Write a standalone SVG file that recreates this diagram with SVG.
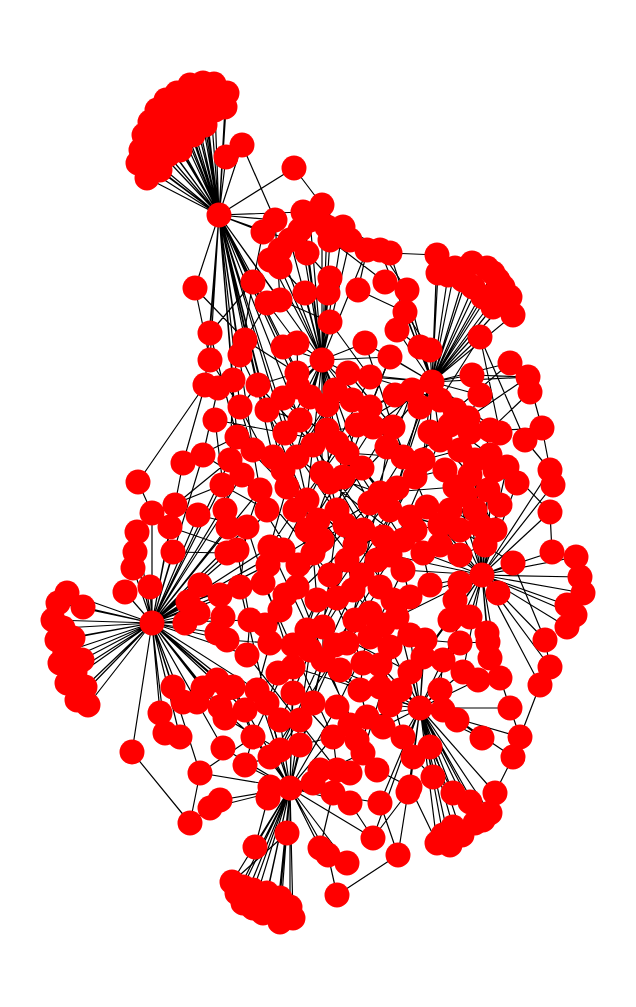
<svg xmlns="http://www.w3.org/2000/svg" width="636" height="1007" viewBox="0 0 636 1007">
<style>
.e path{fill:none;stroke:#000;stroke-width:1.2}
.n circle{fill:#f00}
</style>
<rect width="636" height="1007" fill="#fff"/>
<g id="edges" class="e">
<path id="edgesA" d="M219 215L147 178M219 215L138 163M219 215L141 150M219 215L144 135M219 215L150 122M219 215L157 110M219 215L166 100M219 215L177 93M219 215L190 85M219 215L203 83M219 215L214 84M219 215L227 93M219 215L225 107M219 215L152 165M219 215L158 150M219 215L162 137M219 215L168 124M219 215L176 112M219 215L186 103M219 215L198 96M219 215L210 97M219 215L215 110M219 215L205 112M219 215L195 118M219 215L185 128M219 215L175 140M219 215L168 155M219 215L160 170M219 215L180 150M219 215L193 135M219 215L205 125M219 215L226 157M219 215L242 145M219 215L294 168M219 215L195 288M219 215L303 212M219 215L263 232M219 215L275 220M219 215L210 333M219 215L210 360M219 215L233 380M219 215L240 407M219 215L298 387M219 215L297 457M219 215L300 420M219 215L267 410M219 215L253 282M219 215L267 303M219 215L283 347M219 215L322 360M219 215L245 340M219 215L280 300M219 215L290 240M219 215L205 385M219 215L237 437M219 215L273 457M219 215L310 397M219 215L253 450M219 215L240 355M219 215L285 433M219 215L258 385M219 215L283 470"/>
<path id="edgesF" d="M322 360L303 212M322 360L322 205M322 360L310 220M322 360L327 227M322 360L343 227M322 360L300 230M322 360L290 240M322 360L280 250M322 360L307 253M322 360L330 240M322 360L350 240M322 360L367 250M322 360L330 278M322 360L328 293M322 360L305 293M322 360L330 322M322 360L297 343M322 360L283 347M322 360L365 343M322 360L297 373M322 360L348 373M322 360L298 387M322 360L310 397M322 360L300 420M322 360L327 430M322 360L337 443M322 360L347 453M322 360L322 473M322 360L330 482M322 360L343 477M322 360L287 487M322 360L307 500M322 360L273 457M322 360L370 407M322 360L352 400M322 360L390 357M322 360L270 260M322 360L280 267M322 360L283 398M322 360L327 405M322 360L362 468M322 360L335 390"/>
<path id="edgesC" d="M432 382L437 255M432 382L438 273M432 382L448 275M432 382L472 263M432 382L487 268M432 382L493 273M432 382L503 287M432 382L510 297M432 382L513 315M432 382L493 307M432 382L483 297M432 382L473 287M432 382L463 280M432 382L455 268M432 382L498 280M432 382L407 290M432 382L405 312M432 382L397 330M432 382L420 347M432 382L430 350M432 382L390 357M432 382L365 343M432 382L412 390M432 382L420 407M432 382L393 427M432 382L440 400M432 382L455 410M432 382L468 418M432 382L472 375M432 382L480 337M432 382L500 433M432 382L490 430M432 382L510 363M432 382L528 377M432 382L373 427M432 382L370 407M432 382L403 457M432 382L423 460M432 382L390 253M432 382L380 250M432 382L440 440M432 382L450 425M432 382L348 373M432 382L370 377M432 382L357 425M432 382L397 488M432 382L480 395M432 382L395 395M432 382L430 432"/>
<path id="edgesB" d="M152 623L67 593M152 623L58 603M152 623L83 607M152 623L53 620M152 623L63 628M152 623L57 640M152 623L73 638M152 623L65 652M152 623L60 663M152 623L82 660M152 623L75 672M152 623L67 683M152 623L85 687M152 623L77 700M152 623L88 705M152 623L200 585M152 623L188 602M152 623L220 595M152 623L198 613M152 623L185 623M152 623L223 617M152 623L217 633M152 623L227 640M152 623L227 553M152 623L237 550M152 623L247 527M152 623L228 527M152 623L225 510M152 623L173 552M152 623L135 552M152 623L133 568M152 623L125 592M152 623L150 587M152 623L137 532M152 623L152 513M152 623L170 527M152 623L175 505M152 623L198 515M152 623L173 687M152 623L183 702M152 623L197 702M152 623L203 688M152 623L217 680M152 623L228 688M152 623L220 707M152 623L225 718M152 623L160 713M152 623L165 733M152 623L180 737M152 623L223 748M152 623L132 752M152 623L200 773M152 623L240 587M152 623L263 583M152 623L250 620M152 623L247 655M152 623L233 687M152 623L257 690M152 623L270 547M152 623L283 550M152 623L203 455M152 623L183 463M152 623L230 460M152 623L222 485M152 623L260 490M152 623L242 475M152 623L268 565M152 623L245 710"/>
<path id="edgesD" d="M482 575L552 552M482 575L576 557M482 575L580 577M482 575L583 593M482 575L567 605M482 575L575 615M482 575L567 627M482 575L513 563M482 575L550 512M482 575L553 485M482 575L550 470M482 575L517 483M482 575L507 467M482 575L498 593M482 575L460 583M482 575L455 600M482 575L470 617M482 575L450 620M482 575L487 633M482 575L545 640M482 575L500 678M482 575L540 685M482 575L550 667M482 575L488 642M482 575L490 658M482 575L423 553M482 575L440 545M482 575L460 555M482 575L403 570M482 575L410 597M482 575L397 617M482 575L423 657M482 575L410 672M482 575L443 660M482 575L463 672M482 575L488 490M482 575L500 505M482 575L475 510M482 575L495 530M482 575L480 525M482 575L460 530M482 575L440 525M482 575L455 487M482 575L490 455M482 575L475 460M482 575L390 555M482 575L430 585M482 575L495 470M482 575L465 495M482 575L485 545"/>
<path id="edgesE" d="M290 788L232 882M290 788L237 893M290 788L243 903M290 788L253 908M290 788L263 913M290 788L277 915M290 788L280 922M290 788L293 918M290 788L290 907M290 788L280 898M290 788L267 893M290 788L253 890M290 788L243 887M290 788L265 903M290 788L268 798M290 788L287 833M290 788L255 847M290 788L320 848M290 788L328 855M290 788L270 787M290 788L313 783M290 788L280 750M290 788L270 757M290 788L253 737M290 788L320 770M290 788L337 770M290 788L333 737M290 788L313 703M290 788L293 693M290 788L267 703M290 788L347 863M290 788L210 808M290 788L220 800M290 788L200 773M290 788L223 748M290 788L257 690M290 788L233 687M290 788L350 803M290 788L333 793M290 788L380 803M290 788L363 753M290 788L337 707M290 788L373 838M290 788L293 667M290 788L323 660M290 788L310 650M290 788L300 720M290 788L280 720M290 788L245 765M290 788L300 745"/>
<path id="edgesG" d="M420 708L453 793M420 708L495 793M420 708L470 802M420 708L490 813M420 708L475 823M420 708L453 827M420 708L443 835M420 708L437 843M420 708L450 845M420 708L462 835M420 708L483 820M420 708L443 710M420 708L457 720M420 708L430 747M420 708L433 777M420 708L410 787M420 708L413 757M420 708L403 737M420 708L383 727M420 708L367 717M420 708L380 687M420 708L410 672M420 708L423 657M420 708L443 660M420 708L463 672M420 708L482 738M420 708L520 737M420 708L510 708M420 708L380 803M420 708L373 838M420 708L408 792M420 708L425 640M420 708L460 643M420 708L390 647M420 708L397 617M420 708L360 690M420 708L478 680M420 708L410 635M420 708L380 665M420 708L400 690M420 708L440 690M420 708L390 705"/>
<path id="edgesR" d="M263 232L253 282M275 220L280 300M303 212L343 227M322 205L294 168M243 147L275 220M390 253L437 255M380 250L407 290M385 282L407 290M358 290L405 312M390 357L370 407M365 343L393 427M330 322L370 377M267 303L297 343M280 300L330 322M253 282L210 333M210 333L237 437M210 360L240 407M205 385L138 482M205 385L183 463M218 388L203 455M233 380L230 460M240 355L267 410M245 340L297 373M283 347L310 397M297 343L298 387M348 373L393 427M370 377L412 390M412 390L440 400M420 407L455 410M440 400L480 337M455 410L510 363M468 418L528 377M470 432L542 428M490 430L530 392M500 433L480 337M525 440L550 470M542 428L553 485M507 467L550 512M528 377L542 428M510 363L530 392M472 375L528 377M480 337L525 440M550 512L552 552M513 563L545 640M545 640L550 667M550 667L540 685M540 685L520 737M520 737L513 757M513 757L495 793M488 642L500 678M500 678L510 708M510 708L520 737M337 895L328 855M337 895L398 855M398 855L408 792M373 838L408 792M132 752L190 823M190 823L210 808M200 773L190 823M138 482L152 513M267 410L300 420M240 407L253 450M237 437L273 457M253 450L260 490M273 457L287 487M297 457L307 500M300 420L327 430M327 430L373 427M337 443L370 503M347 453L403 457M322 473L380 493M330 482L337 510M343 477L390 510M370 407L415 477M373 427L423 460M393 427L427 507M403 457L440 440M423 460L460 450M415 477L445 470M380 493L455 487M370 503L410 517M390 510L440 525M410 517L460 530M427 507L475 510M363 530L403 540M383 537L440 545M403 540L423 553M345 525L347 560M307 530L313 553M283 550L297 587M270 547L263 583M247 527L240 587M237 550L250 620M260 490L247 527M287 487L270 547M307 500L307 530M267 510L237 550M313 553L317 600M347 560L353 590M377 560L380 587M403 570L410 597M353 590L370 613M317 600L307 630M297 587L280 610M280 610L270 643M307 630L293 667M323 627L323 660M347 643L363 663M370 637L390 647M397 617L423 657M370 613L347 643M250 620L247 655M270 643L257 690M293 667L293 693M323 660L313 703M363 663L360 690M390 647L380 687M233 687L253 737M257 690L267 703M267 703L280 750M293 693L333 737M313 703L337 707M337 707L357 740M360 690L367 717M380 687L383 727M367 717L363 753M383 727L403 737M253 737L270 757M333 737L337 770M357 740L377 770M363 753L350 773M377 770L410 787M413 757L433 777M320 770L313 783M300 420L363 530M267 410L345 525M337 443L283 550M373 427L307 530M412 390L337 510M287 487L377 560M297 457L403 540M260 490L313 553M420 407L383 537M330 482L270 643M343 477L323 627M380 493L347 643M390 510L307 630M322 473L370 613M307 500L397 617M247 527L293 667M270 547L323 660M313 553L363 663M347 560L293 693M377 560L313 703M403 570L337 707M240 587L267 703M263 583L333 737M297 587L357 740M317 600L253 737M353 590L280 750M380 587L270 757M410 597L363 753M370 613L403 737M307 630L377 770M323 627L410 672M250 620L360 690M270 643L380 687M293 667L420 708M247 655L337 770M183 463L237 437M203 455L260 490M222 485L267 510M198 515L247 527M175 505L230 460M170 527L237 550M173 552L227 553M152 513L222 485M215 420L285 433M285 433L337 443M352 400L403 457M440 440L470 475M450 425L490 455M468 418L507 467M460 450L517 483M445 470L488 490M455 487L500 505M470 475L495 530M440 525L460 555M450 510L480 525M460 530L513 563M425 640L460 643M460 643L488 642M443 660L478 680M457 720L482 738M443 710L513 757M430 747L453 793M433 777L470 802M410 787L437 843M350 803L373 838M333 793L320 848M380 803L398 855M268 798L255 847M287 833L232 882M240 587L188 602M225 510L237 437M228 527L215 420M227 640L270 643M217 680L257 690M220 707L253 737M225 718L280 750M200 773L253 737M322 205L350 240M343 227L390 253M367 250L358 290M330 240L385 282M307 253L330 278M280 267L305 293M253 282L243 340M267 303L245 340M397 330L420 347M405 312L430 350M195 288L245 340M195 288L210 360"/>
<path id="edgesR2" d="M258 385L297 373M258 385L240 407M283 398L267 410M283 398L300 420M327 405L352 400M327 405L337 443M357 425L370 407M357 425L347 453M387 447L373 427M387 447L403 457M387 447L380 493M362 468L347 453M362 468L380 493M397 488L415 477M397 488L390 510M313 445L300 420M313 445L322 473M313 445L297 457M283 470L273 457M283 470L287 487M242 475L230 460M242 475L260 490M318 520L307 500M318 520L337 510M318 520L307 530M295 510L287 487M295 510L307 530M295 510L270 547M322 540L313 553M322 540L345 525M322 540L298 565M355 545L347 560M355 545L363 530M355 545L383 537M390 555L377 560M390 555L403 540M415 530L410 517M415 530L423 553M415 530L440 525M362 575L347 560M362 575L353 590M362 575L377 560M330 575L313 553M330 575L337 598M330 575L347 560M298 565L283 550M298 565L297 587M298 565L313 553M268 565L270 547M268 565L263 583M285 595L297 587M285 595L280 610M285 595L263 583M337 598L317 600M337 598L353 590M337 598L323 627M393 600L380 587M393 600L410 597M393 600L397 617M430 585L423 553M430 585L410 597M265 625L250 620M265 625L280 610M265 625L270 643M293 645L307 630M293 645L270 643M293 645L293 667M335 645L323 627M335 645L347 643M335 645L323 660M355 620L370 613M355 620L347 643M355 620L337 598M383 625L370 637M383 625L397 617M383 625L390 647M410 635L397 617M410 635L425 640M310 650L307 630M310 650L323 660M278 673L293 667M278 673L257 690M278 673L267 703M340 670L323 660M340 670L363 663M340 670L360 690M380 665L363 663M380 665L390 647M400 690L380 687M400 690L410 672M440 690L443 710M440 690L443 660M300 720L313 703M300 720L280 750M350 725L337 707M350 725L357 740M350 725L367 717M390 705L380 687M390 705L383 727M280 720L267 703M280 720L293 693M245 710L233 687M245 710L253 737M245 765L253 737M245 765L270 757M300 745L280 750M300 745L333 737M480 395L472 375M480 395L468 418M495 470L490 455M495 470L507 467M465 495L455 487M465 495L475 510M335 390L348 373M335 390L352 400M395 395L412 390M395 395L370 407M430 432L440 440M430 432L423 460M485 545L495 530M485 545L460 555M297 373L380 493M310 397L403 540M348 373L297 457M370 377L322 473M390 357L343 477M412 390L363 530M267 410L322 540M240 407L295 510M237 437L318 520M253 450L355 545M403 457L330 575M423 460L362 575M440 440L390 555M415 477L337 598M380 493L285 595M370 503L268 565M337 510L393 600M363 530L265 625M383 537L310 650M403 540L335 645M258 385L313 445M283 398L362 468M327 405L283 470M357 425L295 510M387 447L318 520M362 468L415 530M397 488L355 545M313 445L390 555M283 470L322 540M242 475L298 565"/>
</g>
<g id="nodes" class="n">
<g id="hubA"><circle cx="219" cy="215" r="12.5"/></g>
<g id="a1"><circle cx="147" cy="178" r="12.5"/></g>
<g id="a2"><circle cx="138" cy="163" r="12.5"/></g>
<g id="a3"><circle cx="141" cy="150" r="12.5"/></g>
<g id="a4"><circle cx="144" cy="135" r="12.5"/></g>
<g id="a5"><circle cx="150" cy="122" r="12.5"/></g>
<g id="a6"><circle cx="157" cy="110" r="12.5"/></g>
<g id="a7"><circle cx="166" cy="100" r="12.5"/></g>
<g id="a8"><circle cx="177" cy="93" r="12.5"/></g>
<g id="a9"><circle cx="190" cy="85" r="12.5"/></g>
<g id="a10"><circle cx="203" cy="83" r="12.5"/></g>
<g id="a11"><circle cx="214" cy="84" r="12.5"/></g>
<g id="a12"><circle cx="227" cy="93" r="12.5"/></g>
<g id="a13"><circle cx="225" cy="107" r="12.5"/></g>
<g id="a14"><circle cx="152" cy="165" r="12.5"/></g>
<g id="a15"><circle cx="158" cy="150" r="12.5"/></g>
<g id="a16"><circle cx="162" cy="137" r="12.5"/></g>
<g id="a17"><circle cx="168" cy="124" r="12.5"/></g>
<g id="a18"><circle cx="176" cy="112" r="12.5"/></g>
<g id="a19"><circle cx="186" cy="103" r="12.5"/></g>
<g id="a20"><circle cx="198" cy="96" r="12.5"/></g>
<g id="a21"><circle cx="210" cy="97" r="12.5"/></g>
<g id="a22"><circle cx="215" cy="110" r="12.5"/></g>
<g id="a23"><circle cx="205" cy="112" r="12.5"/></g>
<g id="a24"><circle cx="195" cy="118" r="12.5"/></g>
<g id="a25"><circle cx="185" cy="128" r="12.5"/></g>
<g id="a26"><circle cx="175" cy="140" r="12.5"/></g>
<g id="a27"><circle cx="168" cy="155" r="12.5"/></g>
<g id="a28"><circle cx="160" cy="170" r="12.5"/></g>
<g id="a29"><circle cx="180" cy="150" r="12.5"/></g>
<g id="a30"><circle cx="193" cy="135" r="12.5"/></g>
<g id="a31"><circle cx="205" cy="125" r="12.5"/></g>
<g id="a32"><circle cx="226" cy="157" r="12.5"/></g>
<g id="a33"><circle cx="242" cy="145" r="12.5"/></g>
<g id="u1"><circle cx="294" cy="168" r="12.5"/></g>
<g id="u2"><circle cx="195" cy="288" r="12.5"/></g>
<g id="u3"><circle cx="303" cy="212" r="12.5"/></g>
<g id="u4"><circle cx="322" cy="205" r="12.5"/></g>
<g id="u5"><circle cx="275" cy="220" r="12.5"/></g>
<g id="u6"><circle cx="263" cy="232" r="12.5"/></g>
<g id="u7"><circle cx="310" cy="220" r="12.5"/></g>
<g id="u8"><circle cx="343" cy="227" r="12.5"/></g>
<g id="u9"><circle cx="327" cy="227" r="12.5"/></g>
<g id="u10"><circle cx="300" cy="230" r="12.5"/></g>
<g id="u11"><circle cx="290" cy="240" r="12.5"/></g>
<g id="u12"><circle cx="280" cy="250" r="12.5"/></g>
<g id="u13"><circle cx="270" cy="260" r="12.5"/></g>
<g id="u14"><circle cx="280" cy="267" r="12.5"/></g>
<g id="u15"><circle cx="307" cy="253" r="12.5"/></g>
<g id="u16"><circle cx="330" cy="240" r="12.5"/></g>
<g id="u17"><circle cx="350" cy="240" r="12.5"/></g>
<g id="u18"><circle cx="367" cy="250" r="12.5"/></g>
<g id="u19"><circle cx="380" cy="250" r="12.5"/></g>
<g id="u20"><circle cx="390" cy="253" r="12.5"/></g>
<g id="u21"><circle cx="253" cy="282" r="12.5"/></g>
<g id="u22"><circle cx="267" cy="303" r="12.5"/></g>
<g id="u23"><circle cx="280" cy="300" r="12.5"/></g>
<g id="u24"><circle cx="305" cy="293" r="12.5"/></g>
<g id="u25"><circle cx="330" cy="278" r="12.5"/></g>
<g id="u26"><circle cx="328" cy="293" r="12.5"/></g>
<g id="u27"><circle cx="358" cy="290" r="12.5"/></g>
<g id="u28"><circle cx="385" cy="282" r="12.5"/></g>
<g id="u29"><circle cx="407" cy="290" r="12.5"/></g>
<g id="u30"><circle cx="405" cy="312" r="12.5"/></g>
<g id="u31"><circle cx="397" cy="330" r="12.5"/></g>
<g id="u32"><circle cx="420" cy="347" r="12.5"/></g>
<g id="u33"><circle cx="430" cy="350" r="12.5"/></g>
<g id="u34"><circle cx="390" cy="357" r="12.5"/></g>
<g id="u35"><circle cx="365" cy="343" r="12.5"/></g>
<g id="u36"><circle cx="330" cy="322" r="12.5"/></g>
<g id="u37"><circle cx="283" cy="347" r="12.5"/></g>
<g id="u38"><circle cx="297" cy="343" r="12.5"/></g>
<g id="u39"><circle cx="245" cy="340" r="12.5"/></g>
<g id="u40"><circle cx="210" cy="333" r="12.5"/></g>
<g id="u41"><circle cx="210" cy="360" r="12.5"/></g>
<g id="u42"><circle cx="240" cy="355" r="12.5"/></g>
<g id="u43"><circle cx="233" cy="380" r="12.5"/></g>
<g id="u44"><circle cx="205" cy="385" r="12.5"/></g>
<g id="u45"><circle cx="218" cy="388" r="12.5"/></g>
<g id="hubC"><circle cx="432" cy="382" r="12.5"/></g>
<g id="c1"><circle cx="437" cy="255" r="12.5"/></g>
<g id="c2"><circle cx="438" cy="273" r="12.5"/></g>
<g id="c3"><circle cx="448" cy="275" r="12.5"/></g>
<g id="c4"><circle cx="472" cy="263" r="12.5"/></g>
<g id="c5"><circle cx="487" cy="268" r="12.5"/></g>
<g id="c6"><circle cx="493" cy="273" r="12.5"/></g>
<g id="c7"><circle cx="503" cy="287" r="12.5"/></g>
<g id="c8"><circle cx="510" cy="297" r="12.5"/></g>
<g id="c9"><circle cx="513" cy="315" r="12.5"/></g>
<g id="c10"><circle cx="493" cy="307" r="12.5"/></g>
<g id="c11"><circle cx="483" cy="297" r="12.5"/></g>
<g id="c12"><circle cx="473" cy="287" r="12.5"/></g>
<g id="c13"><circle cx="463" cy="280" r="12.5"/></g>
<g id="c14"><circle cx="455" cy="268" r="12.5"/></g>
<g id="c15"><circle cx="498" cy="280" r="12.5"/></g>
<g id="c16"><circle cx="480" cy="337" r="12.5"/></g>
<g id="c17"><circle cx="472" cy="375" r="12.5"/></g>
<g id="c18"><circle cx="510" cy="363" r="12.5"/></g>
<g id="c19"><circle cx="528" cy="377" r="12.5"/></g>
<g id="c20"><circle cx="530" cy="392" r="12.5"/></g>
<g id="c21"><circle cx="542" cy="428" r="12.5"/></g>
<g id="c22"><circle cx="500" cy="433" r="12.5"/></g>
<g id="c23"><circle cx="490" cy="430" r="12.5"/></g>
<g id="c24"><circle cx="525" cy="440" r="12.5"/></g>
<g id="l1"><circle cx="183" cy="463" r="12.5"/></g>
<g id="l2"><circle cx="203" cy="455" r="12.5"/></g>
<g id="l3"><circle cx="230" cy="460" r="12.5"/></g>
<g id="l4"><circle cx="237" cy="437" r="12.5"/></g>
<g id="l5"><circle cx="222" cy="485" r="12.5"/></g>
<g id="l6"><circle cx="138" cy="482" r="12.5"/></g>
<g id="l7"><circle cx="175" cy="505" r="12.5"/></g>
<g id="l8"><circle cx="198" cy="515" r="12.5"/></g>
<g id="l9"><circle cx="152" cy="513" r="12.5"/></g>
<g id="l10"><circle cx="170" cy="527" r="12.5"/></g>
<g id="l11"><circle cx="137" cy="532" r="12.5"/></g>
<g id="l12"><circle cx="225" cy="510" r="12.5"/></g>
<g id="l13"><circle cx="228" cy="527" r="12.5"/></g>
<g id="l14"><circle cx="135" cy="552" r="12.5"/></g>
<g id="l15"><circle cx="173" cy="552" r="12.5"/></g>
<g id="l16"><circle cx="227" cy="553" r="12.5"/></g>
<g id="l17"><circle cx="133" cy="568" r="12.5"/></g>
<g id="l18"><circle cx="125" cy="592" r="12.5"/></g>
<g id="l19"><circle cx="150" cy="587" r="12.5"/></g>
<g id="l20"><circle cx="200" cy="585" r="12.5"/></g>
<g id="l21"><circle cx="188" cy="602" r="12.5"/></g>
<g id="l22"><circle cx="220" cy="595" r="12.5"/></g>
<g id="l23"><circle cx="198" cy="613" r="12.5"/></g>
<g id="l24"><circle cx="185" cy="623" r="12.5"/></g>
<g id="l25"><circle cx="223" cy="617" r="12.5"/></g>
<g id="l26"><circle cx="217" cy="633" r="12.5"/></g>
<g id="l27"><circle cx="227" cy="640" r="12.5"/></g>
<g id="hubB"><circle cx="152" cy="623" r="12.5"/></g>
<g id="b1"><circle cx="67" cy="593" r="12.5"/></g>
<g id="b2"><circle cx="58" cy="603" r="12.5"/></g>
<g id="b3"><circle cx="83" cy="607" r="12.5"/></g>
<g id="b4"><circle cx="53" cy="620" r="12.5"/></g>
<g id="b5"><circle cx="63" cy="628" r="12.5"/></g>
<g id="b6"><circle cx="57" cy="640" r="12.5"/></g>
<g id="b7"><circle cx="73" cy="638" r="12.5"/></g>
<g id="b8"><circle cx="65" cy="652" r="12.5"/></g>
<g id="b9"><circle cx="60" cy="663" r="12.5"/></g>
<g id="b10"><circle cx="82" cy="660" r="12.5"/></g>
<g id="b11"><circle cx="75" cy="672" r="12.5"/></g>
<g id="b12"><circle cx="67" cy="683" r="12.5"/></g>
<g id="b13"><circle cx="85" cy="687" r="12.5"/></g>
<g id="b14"><circle cx="77" cy="700" r="12.5"/></g>
<g id="b15"><circle cx="88" cy="705" r="12.5"/></g>
<g id="l28"><circle cx="173" cy="687" r="12.5"/></g>
<g id="l29"><circle cx="183" cy="702" r="12.5"/></g>
<g id="l30"><circle cx="197" cy="702" r="12.5"/></g>
<g id="l31"><circle cx="203" cy="688" r="12.5"/></g>
<g id="l32"><circle cx="217" cy="680" r="12.5"/></g>
<g id="l33"><circle cx="228" cy="688" r="12.5"/></g>
<g id="l34"><circle cx="220" cy="707" r="12.5"/></g>
<g id="l35"><circle cx="225" cy="718" r="12.5"/></g>
<g id="l36"><circle cx="160" cy="713" r="12.5"/></g>
<g id="l37"><circle cx="165" cy="733" r="12.5"/></g>
<g id="l38"><circle cx="180" cy="737" r="12.5"/></g>
<g id="l39"><circle cx="223" cy="748" r="12.5"/></g>
<g id="l40"><circle cx="132" cy="752" r="12.5"/></g>
<g id="l41"><circle cx="200" cy="773" r="12.5"/></g>
<g id="l42"><circle cx="210" cy="808" r="12.5"/></g>
<g id="l43"><circle cx="220" cy="800" r="12.5"/></g>
<g id="l44"><circle cx="190" cy="823" r="12.5"/></g>
<g id="hubF"><circle cx="322" cy="360" r="12.5"/></g>
<g id="m1"><circle cx="297" cy="373" r="12.5"/></g>
<g id="m2"><circle cx="310" cy="397" r="12.5"/></g>
<g id="m3"><circle cx="298" cy="387" r="12.5"/></g>
<g id="m4"><circle cx="300" cy="420" r="12.5"/></g>
<g id="m5"><circle cx="267" cy="410" r="12.5"/></g>
<g id="m6"><circle cx="240" cy="407" r="12.5"/></g>
<g id="m7"><circle cx="253" cy="450" r="12.5"/></g>
<g id="m8"><circle cx="273" cy="457" r="12.5"/></g>
<g id="m9"><circle cx="297" cy="457" r="12.5"/></g>
<g id="m10"><circle cx="327" cy="430" r="12.5"/></g>
<g id="m11"><circle cx="337" cy="443" r="12.5"/></g>
<g id="m12"><circle cx="347" cy="453" r="12.5"/></g>
<g id="m13"><circle cx="322" cy="473" r="12.5"/></g>
<g id="m14"><circle cx="330" cy="482" r="12.5"/></g>
<g id="m15"><circle cx="343" cy="477" r="12.5"/></g>
<g id="m16"><circle cx="348" cy="373" r="12.5"/></g>
<g id="m17"><circle cx="370" cy="377" r="12.5"/></g>
<g id="m18"><circle cx="370" cy="407" r="12.5"/></g>
<g id="m19"><circle cx="373" cy="427" r="12.5"/></g>
<g id="m20"><circle cx="393" cy="427" r="12.5"/></g>
<g id="m21"><circle cx="412" cy="390" r="12.5"/></g>
<g id="m22"><circle cx="420" cy="407" r="12.5"/></g>
<g id="m23"><circle cx="403" cy="457" r="12.5"/></g>
<g id="m24"><circle cx="423" cy="460" r="12.5"/></g>
<g id="m25"><circle cx="415" cy="477" r="12.5"/></g>
<g id="m26"><circle cx="380" cy="493" r="12.5"/></g>
<g id="m27"><circle cx="370" cy="503" r="12.5"/></g>
<g id="m28"><circle cx="390" cy="510" r="12.5"/></g>
<g id="m29"><circle cx="410" cy="517" r="12.5"/></g>
<g id="m30"><circle cx="427" cy="507" r="12.5"/></g>
<g id="m31"><circle cx="337" cy="510" r="12.5"/></g>
<g id="m32"><circle cx="345" cy="525" r="12.5"/></g>
<g id="m33"><circle cx="363" cy="530" r="12.5"/></g>
<g id="m34"><circle cx="383" cy="537" r="12.5"/></g>
<g id="m35"><circle cx="403" cy="540" r="12.5"/></g>
<g id="m36"><circle cx="423" cy="553" r="12.5"/></g>
<g id="m37"><circle cx="260" cy="490" r="12.5"/></g>
<g id="m38"><circle cx="287" cy="487" r="12.5"/></g>
<g id="m39"><circle cx="307" cy="500" r="12.5"/></g>
<g id="m40"><circle cx="267" cy="510" r="12.5"/></g>
<g id="m41"><circle cx="247" cy="527" r="12.5"/></g>
<g id="m42"><circle cx="237" cy="550" r="12.5"/></g>
<g id="m43"><circle cx="270" cy="547" r="12.5"/></g>
<g id="m44"><circle cx="283" cy="550" r="12.5"/></g>
<g id="m45"><circle cx="307" cy="530" r="12.5"/></g>
<g id="m46"><circle cx="313" cy="553" r="12.5"/></g>
<g id="m47"><circle cx="347" cy="560" r="12.5"/></g>
<g id="m48"><circle cx="377" cy="560" r="12.5"/></g>
<g id="m49"><circle cx="403" cy="570" r="12.5"/></g>
<g id="m50"><circle cx="352" cy="400" r="12.5"/></g>
<g id="m51"><circle cx="285" cy="433" r="12.5"/></g>
<g id="m52"><circle cx="215" cy="420" r="12.5"/></g>
<g id="r1"><circle cx="440" cy="400" r="12.5"/></g>
<g id="r2"><circle cx="455" cy="410" r="12.5"/></g>
<g id="r3"><circle cx="450" cy="425" r="12.5"/></g>
<g id="r4"><circle cx="468" cy="418" r="12.5"/></g>
<g id="r5"><circle cx="470" cy="432" r="12.5"/></g>
<g id="r6"><circle cx="440" cy="440" r="12.5"/></g>
<g id="r7"><circle cx="460" cy="450" r="12.5"/></g>
<g id="r8"><circle cx="475" cy="460" r="12.5"/></g>
<g id="r9"><circle cx="490" cy="455" r="12.5"/></g>
<g id="r10"><circle cx="445" cy="470" r="12.5"/></g>
<g id="r11"><circle cx="455" cy="487" r="12.5"/></g>
<g id="r12"><circle cx="470" cy="475" r="12.5"/></g>
<g id="r13"><circle cx="488" cy="490" r="12.5"/></g>
<g id="r14"><circle cx="500" cy="505" r="12.5"/></g>
<g id="r15"><circle cx="475" cy="510" r="12.5"/></g>
<g id="r16"><circle cx="450" cy="510" r="12.5"/></g>
<g id="r17"><circle cx="440" cy="525" r="12.5"/></g>
<g id="r18"><circle cx="460" cy="530" r="12.5"/></g>
<g id="r19"><circle cx="480" cy="525" r="12.5"/></g>
<g id="r20"><circle cx="495" cy="530" r="12.5"/></g>
<g id="r21"><circle cx="440" cy="545" r="12.5"/></g>
<g id="r22"><circle cx="460" cy="555" r="12.5"/></g>
<g id="r23"><circle cx="507" cy="467" r="12.5"/></g>
<g id="r24"><circle cx="517" cy="483" r="12.5"/></g>
<g id="r25"><circle cx="550" cy="470" r="12.5"/></g>
<g id="r26"><circle cx="553" cy="485" r="12.5"/></g>
<g id="r27"><circle cx="550" cy="512" r="12.5"/></g>
<g id="r28"><circle cx="513" cy="563" r="12.5"/></g>
<g id="hubD"><circle cx="482" cy="575" r="12.5"/></g>
<g id="d1"><circle cx="552" cy="552" r="12.5"/></g>
<g id="d2"><circle cx="576" cy="557" r="12.5"/></g>
<g id="d3"><circle cx="580" cy="577" r="12.5"/></g>
<g id="d4"><circle cx="583" cy="593" r="12.5"/></g>
<g id="d5"><circle cx="567" cy="605" r="12.5"/></g>
<g id="d6"><circle cx="575" cy="615" r="12.5"/></g>
<g id="d7"><circle cx="567" cy="627" r="12.5"/></g>
<g id="d8"><circle cx="498" cy="593" r="12.5"/></g>
<g id="d9"><circle cx="460" cy="583" r="12.5"/></g>
<g id="d10"><circle cx="455" cy="600" r="12.5"/></g>
<g id="d11"><circle cx="470" cy="617" r="12.5"/></g>
<g id="d12"><circle cx="450" cy="620" r="12.5"/></g>
<g id="d13"><circle cx="487" cy="633" r="12.5"/></g>
<g id="d14"><circle cx="545" cy="640" r="12.5"/></g>
<g id="s1"><circle cx="240" cy="587" r="12.5"/></g>
<g id="s2"><circle cx="263" cy="583" r="12.5"/></g>
<g id="s3"><circle cx="297" cy="587" r="12.5"/></g>
<g id="s4"><circle cx="317" cy="600" r="12.5"/></g>
<g id="s5"><circle cx="353" cy="590" r="12.5"/></g>
<g id="s6"><circle cx="380" cy="587" r="12.5"/></g>
<g id="s7"><circle cx="410" cy="597" r="12.5"/></g>
<g id="s8"><circle cx="370" cy="613" r="12.5"/></g>
<g id="s9"><circle cx="250" cy="620" r="12.5"/></g>
<g id="s10"><circle cx="280" cy="610" r="12.5"/></g>
<g id="s11"><circle cx="307" cy="630" r="12.5"/></g>
<g id="s12"><circle cx="323" cy="627" r="12.5"/></g>
<g id="s13"><circle cx="270" cy="643" r="12.5"/></g>
<g id="s14"><circle cx="247" cy="655" r="12.5"/></g>
<g id="s15"><circle cx="293" cy="667" r="12.5"/></g>
<g id="s16"><circle cx="323" cy="660" r="12.5"/></g>
<g id="s17"><circle cx="347" cy="643" r="12.5"/></g>
<g id="s18"><circle cx="370" cy="637" r="12.5"/></g>
<g id="s19"><circle cx="397" cy="617" r="12.5"/></g>
<g id="s20"><circle cx="390" cy="647" r="12.5"/></g>
<g id="s21"><circle cx="363" cy="663" r="12.5"/></g>
<g id="s22"><circle cx="410" cy="672" r="12.5"/></g>
<g id="s23"><circle cx="423" cy="657" r="12.5"/></g>
<g id="s24"><circle cx="233" cy="687" r="12.5"/></g>
<g id="s25"><circle cx="257" cy="690" r="12.5"/></g>
<g id="s26"><circle cx="267" cy="703" r="12.5"/></g>
<g id="s27"><circle cx="293" cy="693" r="12.5"/></g>
<g id="s28"><circle cx="313" cy="703" r="12.5"/></g>
<g id="s29"><circle cx="337" cy="707" r="12.5"/></g>
<g id="s30"><circle cx="360" cy="690" r="12.5"/></g>
<g id="s31"><circle cx="380" cy="687" r="12.5"/></g>
<g id="s32"><circle cx="367" cy="717" r="12.5"/></g>
<g id="s33"><circle cx="383" cy="727" r="12.5"/></g>
<g id="s34"><circle cx="403" cy="737" r="12.5"/></g>
<g id="hubG"><circle cx="420" cy="708" r="12.5"/></g>
<g id="s35"><circle cx="253" cy="737" r="12.5"/></g>
<g id="s36"><circle cx="280" cy="750" r="12.5"/></g>
<g id="s37"><circle cx="270" cy="757" r="12.5"/></g>
<g id="s38"><circle cx="333" cy="737" r="12.5"/></g>
<g id="s39"><circle cx="357" cy="740" r="12.5"/></g>
<g id="s40"><circle cx="363" cy="753" r="12.5"/></g>
<g id="s41"><circle cx="377" cy="770" r="12.5"/></g>
<g id="s42"><circle cx="337" cy="770" r="12.5"/></g>
<g id="s43"><circle cx="320" cy="770" r="12.5"/></g>
<g id="hubE"><circle cx="290" cy="788" r="12.5"/></g>
<g id="s44"><circle cx="270" cy="787" r="12.5"/></g>
<g id="s45"><circle cx="313" cy="783" r="12.5"/></g>
<g id="s46"><circle cx="350" cy="773" r="12.5"/></g>
<g id="s47"><circle cx="410" cy="787" r="12.5"/></g>
<g id="s48"><circle cx="413" cy="757" r="12.5"/></g>
<g id="t1"><circle cx="425" cy="640" r="12.5"/></g>
<g id="t2"><circle cx="460" cy="643" r="12.5"/></g>
<g id="t3"><circle cx="443" cy="660" r="12.5"/></g>
<g id="t4"><circle cx="463" cy="672" r="12.5"/></g>
<g id="t5"><circle cx="478" cy="680" r="12.5"/></g>
<g id="t6"><circle cx="488" cy="642" r="12.5"/></g>
<g id="t7"><circle cx="490" cy="658" r="12.5"/></g>
<g id="t8"><circle cx="500" cy="678" r="12.5"/></g>
<g id="t9"><circle cx="540" cy="685" r="12.5"/></g>
<g id="t10"><circle cx="550" cy="667" r="12.5"/></g>
<g id="t11"><circle cx="443" cy="710" r="12.5"/></g>
<g id="t12"><circle cx="457" cy="720" r="12.5"/></g>
<g id="t13"><circle cx="482" cy="738" r="12.5"/></g>
<g id="t14"><circle cx="510" cy="708" r="12.5"/></g>
<g id="t15"><circle cx="520" cy="737" r="12.5"/></g>
<g id="t16"><circle cx="513" cy="757" r="12.5"/></g>
<g id="t17"><circle cx="430" cy="747" r="12.5"/></g>
<g id="t18"><circle cx="433" cy="777" r="12.5"/></g>
<g id="g1"><circle cx="453" cy="793" r="12.5"/></g>
<g id="g2"><circle cx="495" cy="793" r="12.5"/></g>
<g id="g3"><circle cx="470" cy="802" r="12.5"/></g>
<g id="g4"><circle cx="490" cy="813" r="12.5"/></g>
<g id="g5"><circle cx="475" cy="823" r="12.5"/></g>
<g id="g6"><circle cx="453" cy="827" r="12.5"/></g>
<g id="g7"><circle cx="443" cy="835" r="12.5"/></g>
<g id="g8"><circle cx="437" cy="843" r="12.5"/></g>
<g id="g9"><circle cx="450" cy="845" r="12.5"/></g>
<g id="g10"><circle cx="462" cy="835" r="12.5"/></g>
<g id="g11"><circle cx="483" cy="820" r="12.5"/></g>
<g id="w1"><circle cx="268" cy="798" r="12.5"/></g>
<g id="w2"><circle cx="287" cy="833" r="12.5"/></g>
<g id="w3"><circle cx="255" cy="847" r="12.5"/></g>
<g id="w4"><circle cx="320" cy="848" r="12.5"/></g>
<g id="w5"><circle cx="328" cy="855" r="12.5"/></g>
<g id="w6"><circle cx="347" cy="863" r="12.5"/></g>
<g id="w7"><circle cx="337" cy="895" r="12.5"/></g>
<g id="w8"><circle cx="373" cy="838" r="12.5"/></g>
<g id="w9"><circle cx="398" cy="855" r="12.5"/></g>
<g id="w10"><circle cx="408" cy="792" r="12.5"/></g>
<g id="w11"><circle cx="380" cy="803" r="12.5"/></g>
<g id="w12"><circle cx="350" cy="803" r="12.5"/></g>
<g id="w13"><circle cx="333" cy="793" r="12.5"/></g>
<g id="e1"><circle cx="232" cy="882" r="12.5"/></g>
<g id="e2"><circle cx="237" cy="893" r="12.5"/></g>
<g id="e3"><circle cx="243" cy="903" r="12.5"/></g>
<g id="e4"><circle cx="253" cy="908" r="12.5"/></g>
<g id="e5"><circle cx="263" cy="913" r="12.5"/></g>
<g id="e6"><circle cx="277" cy="915" r="12.5"/></g>
<g id="e7"><circle cx="280" cy="922" r="12.5"/></g>
<g id="e8"><circle cx="293" cy="918" r="12.5"/></g>
<g id="e9"><circle cx="290" cy="907" r="12.5"/></g>
<g id="e10"><circle cx="280" cy="898" r="12.5"/></g>
<g id="e11"><circle cx="267" cy="893" r="12.5"/></g>
<g id="e12"><circle cx="253" cy="890" r="12.5"/></g>
<g id="e13"><circle cx="243" cy="887" r="12.5"/></g>
<g id="e14"><circle cx="265" cy="903" r="12.5"/></g>
<g id="x1"><circle cx="258" cy="385" r="12.5"/></g>
<g id="x2"><circle cx="283" cy="398" r="12.5"/></g>
<g id="x3"><circle cx="327" cy="405" r="12.5"/></g>
<g id="x4"><circle cx="357" cy="425" r="12.5"/></g>
<g id="x5"><circle cx="387" cy="447" r="12.5"/></g>
<g id="x6"><circle cx="362" cy="468" r="12.5"/></g>
<g id="x7"><circle cx="397" cy="488" r="12.5"/></g>
<g id="x8"><circle cx="313" cy="445" r="12.5"/></g>
<g id="x9"><circle cx="283" cy="470" r="12.5"/></g>
<g id="x10"><circle cx="242" cy="475" r="12.5"/></g>
<g id="x11"><circle cx="318" cy="520" r="12.5"/></g>
<g id="x12"><circle cx="295" cy="510" r="12.5"/></g>
<g id="x13"><circle cx="322" cy="540" r="12.5"/></g>
<g id="x14"><circle cx="355" cy="545" r="12.5"/></g>
<g id="x15"><circle cx="390" cy="555" r="12.5"/></g>
<g id="x16"><circle cx="415" cy="530" r="12.5"/></g>
<g id="x17"><circle cx="362" cy="575" r="12.5"/></g>
<g id="x18"><circle cx="330" cy="575" r="12.5"/></g>
<g id="x19"><circle cx="298" cy="565" r="12.5"/></g>
<g id="x20"><circle cx="268" cy="565" r="12.5"/></g>
<g id="x21"><circle cx="285" cy="595" r="12.5"/></g>
<g id="x22"><circle cx="337" cy="598" r="12.5"/></g>
<g id="x23"><circle cx="393" cy="600" r="12.5"/></g>
<g id="x24"><circle cx="430" cy="585" r="12.5"/></g>
<g id="x25"><circle cx="265" cy="625" r="12.5"/></g>
<g id="x26"><circle cx="293" cy="645" r="12.5"/></g>
<g id="x27"><circle cx="335" cy="645" r="12.5"/></g>
<g id="x28"><circle cx="355" cy="620" r="12.5"/></g>
<g id="x29"><circle cx="383" cy="625" r="12.5"/></g>
<g id="x30"><circle cx="410" cy="635" r="12.5"/></g>
<g id="x31"><circle cx="310" cy="650" r="12.5"/></g>
<g id="x32"><circle cx="278" cy="673" r="12.5"/></g>
<g id="x33"><circle cx="340" cy="670" r="12.5"/></g>
<g id="x34"><circle cx="380" cy="665" r="12.5"/></g>
<g id="x35"><circle cx="400" cy="690" r="12.5"/></g>
<g id="x36"><circle cx="440" cy="690" r="12.5"/></g>
<g id="x37"><circle cx="300" cy="720" r="12.5"/></g>
<g id="x38"><circle cx="350" cy="725" r="12.5"/></g>
<g id="x39"><circle cx="390" cy="705" r="12.5"/></g>
<g id="x40"><circle cx="280" cy="720" r="12.5"/></g>
<g id="x41"><circle cx="245" cy="710" r="12.5"/></g>
<g id="x42"><circle cx="245" cy="765" r="12.5"/></g>
<g id="x43"><circle cx="300" cy="745" r="12.5"/></g>
<g id="x44"><circle cx="480" cy="395" r="12.5"/></g>
<g id="x45"><circle cx="495" cy="470" r="12.5"/></g>
<g id="x46"><circle cx="465" cy="495" r="12.5"/></g>
<g id="x47"><circle cx="335" cy="390" r="12.5"/></g>
<g id="x48"><circle cx="395" cy="395" r="12.5"/></g>
<g id="x49"><circle cx="430" cy="432" r="12.5"/></g>
<g id="x50"><circle cx="485" cy="545" r="12.5"/></g>
</g>
</svg>
